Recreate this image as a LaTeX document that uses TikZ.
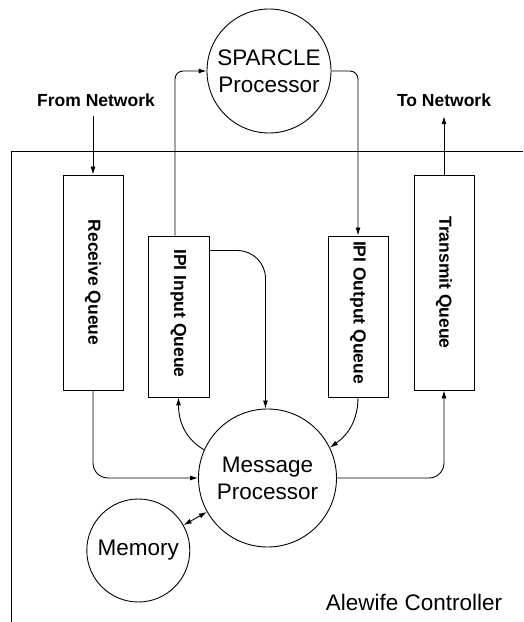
\documentclass[tikz,border=0pt]{standalone}
\usepackage{fontspec}
\setmainfont{Liberation Sans}
\usetikzlibrary{arrows.meta}
\begin{document}
\begin{tikzpicture}[x=1pt,y=1pt, line width=0.9pt,
  >={Latex[length=8pt,width=5pt]},
  queue/.style={draw, minimum width=60pt, inner sep=0pt},
  qtext/.style={rotate=-90, font=\bfseries\fontsize{17.5}{20}\selectfont},
  proc/.style={draw, circle, inner sep=0pt, align=center, font=\fontsize{22.5}{27}\selectfont},
  netlabel/.style={font=\bfseries\fontsize{17.5}{20}\selectfont},
  conn/.style={->}
]
\useasboundingbox (0,0) rectangle (523,622);

% controller boundary (top and left sides only)
\coordinate (bx1) at (523,471);
\coordinate (bx2) at (11,471);
\coordinate (bx3) at (11,0);
\draw (bx1) -- (bx2) -- (bx3);

% processors
\node[proc, minimum size=124pt] (sp) at (269,551) {SPARCLE\\Processor};
\node[proc, minimum size=138pt] (mp) at (267.5,144) {Message\\Processor};
\node[proc, minimum size=103pt] (mem) at (138.3,71.5) {Memory};

% queues
\node[queue, minimum height=215pt] (rq) at (93,339.5) {};
\node[queue, minimum width=61pt, minimum height=161pt] (iq) at (178.5,305.5) {};
\node[queue, minimum height=161pt] (oq) at (358,305.5) {};
\node[queue, minimum height=215pt] (tq) at (444,339.5) {};
\node[qtext] (rqt) at (rq) {Receive Queue};
\node[qtext] (iqt) at ([yshift=3pt]iq.center) {IPI Input Queue};
\node[qtext] (oqt) at ([yshift=4pt]oq.center) {IPI Output Queue};
\node[qtext] (tqt) at (tq) {Transmit Queue};

% network labels
\node[netlabel] (fn) at (96,522) {From Network};
\node[netlabel] (tn) at (444,522) {To Network};
\node[anchor=base, font=\fontsize{22.5}{27}\selectfont] (ac) at (414,11) {Alewife Controller};

% connectors
\draw[conn] ([yshift=-6pt]fn.south -| rq.north) -- (rq.north);
\draw[conn] (tq.north) -- ([yshift=-6pt]tn.south -| tq.north);
\draw[conn, rounded corners=8pt] ([xshift=-3.5pt]iq.north) |- (sp.west);
\draw[conn, rounded corners=8pt] (sp.east) -| (oq.north);
\draw[conn, rounded corners=28pt] ([yshift=-15pt]iq.north east) -| ([xshift=-2pt]mp.north);
\draw[conn, rounded corners=15pt] (rq.south) |- (mp.west);
\draw[conn, rounded corners=15pt] (mp.east) -| (tq.south);
\draw[conn] (mp.156) to[out=150, in=-90] (iq.south);
\draw[conn] (oq.south) to[out=-90, in=35] (mp.26);
\draw[<->] (mem) -- (mp);
\end{tikzpicture}
\end{document}
